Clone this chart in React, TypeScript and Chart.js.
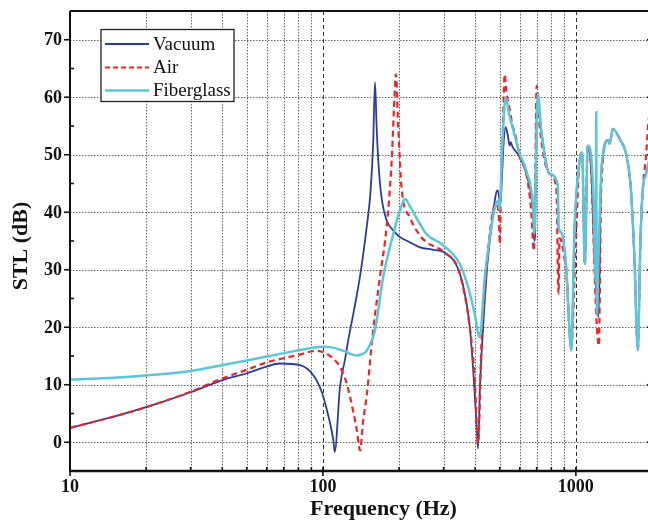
import React, { useEffect, useRef } from "react";
import { Chart, registerables } from "chart.js";
Chart.register(...registerables);

const seriesNames = ["Vacuum", "Air", "Fiberglass"];
const seriesColors = ["#2D3C9A", "#E8262A", "#5CC6D9"];
const yTicks = [0, 10, 20, 30, 40, 50, 60, 70];
const xTickLabels = [10, 100, 1000];
const xTitle = "Frequency (Hz)";
const yTitle = "STL (dB)";

const vacuumFreq = [10, 15, 20, 30, 40, 50, 56.5, 67.8, 81.3, 91.8, 99, 105.3, 110, 111.3, 116.8, 122.4, 126, 133, 140, 150, 154, 158, 160.6, 163, 165.5, 170, 178.5, 190, 201.5, 220, 242, 270, 300, 330, 348, 365, 381, 392, 398, 405, 410.6, 418, 430, 445, 463.5, 480, 488, 494, 500, 503, 510, 518, 528, 540, 547, 553, 560, 600, 637, 676, 686, 690, 695, 701, 708, 730, 787, 849, 854, 875, 916, 959, 988, 1034, 1059, 1085, 1114, 1150, 1185, 1230, 1259, 1338, 1360, 1400, 1500, 1581, 1650, 1704, 1757, 1800, 1838, 1896, 1950, 2000];
const vacuumSTL = [2.5, 4.5, 6.1, 8.7, 10.8, 12.0, 12.8, 13.7, 13.4, 11.6, 8.7, 4.4, 0.3, -1.7, 9.6, 14.5, 17.8, 23.2, 28.7, 38.5, 43.2, 52, 62.6, 55, 49, 43, 38.6, 36.8, 35.7, 34.8, 33.9, 33.5, 33.1, 31.5, 29.3, 25.5, 20, 13, 8.5, 3, -1.1, 10, 20, 30, 37.4, 42.5, 43.8, 43.5, 42, 42, 46, 52, 54.8, 53, 51.6, 52.2, 51.5, 49.6, 46.7, 40.3, 35, 36, 48, 58, 59.5, 54.2, 46.7, 44.6, 37.4, 36.5, 30.5, 16, 37.4, 49, 50.4, 31, 51.6, 47.5, 32, 21.8, 46.7, 52.5, 51.9, 54.5, 52.5, 50.1, 44, 32.2, 16, 35, 43.8, 46.7, 49, 51];

const airFreq = [10, 15, 20, 30, 40, 50, 60, 70, 80, 94.6, 103.4, 110, 116.8, 124.2, 131.4, 136, 140.3, 144, 148.8, 158, 168, 178.5, 187, 190.8, 194.3, 198.5, 204.6, 220.7, 241.6, 256.7, 300, 347.6, 380.6, 398, 410.6, 423.3, 440, 456.5, 481.5, 495, 500.7, 505, 515, 523, 531, 547, 564, 573, 600, 637, 666, 682, 690, 700, 719.5, 787, 837, 854, 862, 875, 916, 959, 1000, 1034, 1059, 1085, 1114, 1150, 1185, 1204, 1233, 1259, 1338, 1360, 1400, 1500, 1581, 1650, 1704, 1757, 1800, 1838, 1896, 1930, 2000];
const airSTL = [2.5, 4.5, 6.1, 8.8, 11.1, 12.6, 13.9, 14.6, 15.2, 15.9, 15.4, 14.5, 13.1, 10.2, 5.6, 2.2, -1.4, 3.5, 7.9, 19.5, 28.7, 37.4, 49, 57.7, 64, 54.8, 44.3, 39.1, 36, 34.8, 33.1, 29.3, 20, 11.3, -0.2, 17.1, 28, 36.2, 41.5, 40, 34.5, 42, 55, 64, 61, 58, 54.8, 54, 49.6, 46.7, 40.3, 33.3, 45, 62, 54.8, 46.7, 44.3, 25.8, 35.5, 35.1, 29.3, 16.6, 35.1, 49, 50.4, 31, 51.6, 47, 30, 22, 16.8, 44, 52.5, 51.9, 54.5, 52.5, 50.1, 44, 32.2, 16, 35, 43.8, 50, 55, 60];

const fiberFreq = [10, 15, 20, 30, 40, 50, 60, 70, 80, 90, 100, 108, 120.4, 128, 136, 142, 148.8, 160.6, 173, 189.7, 201.5, 211, 221, 241.6, 256.7, 300, 347.6, 375, 398, 416.8, 436.5, 470, 492, 500, 510, 528, 545, 564, 600, 637, 676, 686, 695, 708, 730, 787, 849, 852, 875, 916, 959, 988, 1034, 1059, 1085, 1114, 1150, 1175, 1198, 1202, 1204, 1206, 1212, 1225, 1259, 1300, 1338, 1360, 1400, 1500, 1581, 1650, 1704, 1757, 1800, 1838, 1896, 1950, 2000];
const fiberSTL = [10.9, 11.2, 11.6, 12.4, 13.4, 14.2, 14.9, 15.5, 16.0, 16.4, 16.6, 16.5, 15.9, 15.4, 15.1, 15.3, 15.9, 19.5, 28.7, 36.2, 40.3, 42.3, 41, 38, 36.2, 34.2, 31, 27, 22.4, 18.3, 28.7, 39.1, 42, 40.5, 50, 60, 57, 54.5, 50.2, 47.2, 41.5, 36.3, 48, 60.6, 54.2, 46.7, 44.6, 38, 36.5, 30.5, 16, 37.4, 49, 50.4, 31, 51.6, 49.6, 42, 28, 45, 57.4, 40, 22, 30, 46.7, 51.5, 52.5, 51.9, 54.5, 52.5, 50.1, 44, 32.2, 16, 35, 43.8, 46.7, 49, 50];

const FONT = '"Liberation Serif", "Times New Roman", serif';

const framePlugin = {
  id: "frame",
  beforeDatasetsDraw(chart: any) {
    const { ctx, chartArea: a, scales } = chart;
    const x = scales.x, y = scales.y;
    ctx.save();
    ctx.lineWidth = 1;
    ctx.strokeStyle = "#666";
    ctx.setLineDash([1.5, 1.5]);
    for (const v of yTicks) {
      const py = Math.round(y.getPixelForValue(v)) + 0.5;
      ctx.beginPath(); ctx.moveTo(a.left, py); ctx.lineTo(a.right, py); ctx.stroke();
    }
    for (const d of [10, 100, 1000]) {
      for (let m = 2; m <= 9; m++) {
        const f = d * m;
        if (f >= 2000) continue;
        const px = Math.round(x.getPixelForValue(f)) + 0.5;
        ctx.beginPath(); ctx.moveTo(px, a.top); ctx.lineTo(px, a.bottom); ctx.stroke();
      }
    }
    ctx.strokeStyle = "#333";
    ctx.setLineDash([4, 3]);
    for (const f of [100, 1000]) {
      const px = Math.round(x.getPixelForValue(f)) + 0.5;
      ctx.beginPath(); ctx.moveTo(px, a.top); ctx.lineTo(px, a.bottom); ctx.stroke();
    }
    ctx.restore();
  },
  afterDraw(chart: any) {
    const { ctx, chartArea: a, scales } = chart;
    const x = scales.x, y = scales.y;
    ctx.save();
    ctx.setLineDash([]);
    ctx.strokeStyle = "#111";
    ctx.lineWidth = 2;
    ctx.beginPath(); ctx.moveTo(a.left, a.top); ctx.lineTo(a.right, a.top); ctx.stroke();
    ctx.beginPath(); ctx.moveTo(a.left, a.top); ctx.lineTo(a.left, a.bottom); ctx.stroke();
    ctx.beginPath(); ctx.moveTo(a.right, a.top); ctx.lineTo(a.right, a.bottom); ctx.stroke();
    ctx.lineWidth = 2.6;
    ctx.beginPath(); ctx.moveTo(a.left - 1, a.bottom); ctx.lineTo(a.right, a.bottom); ctx.stroke();
    ctx.lineWidth = 1.6;
    for (let v = -5; v <= 75; v += 5) {
      const py = y.getPixelForValue(v);
      if (v % 10 === 0) {
        ctx.beginPath(); ctx.moveTo(a.left - 6, py); ctx.lineTo(a.left, py); ctx.stroke();
        ctx.beginPath(); ctx.moveTo(a.right - 5, py); ctx.lineTo(a.right, py); ctx.stroke();
      } else if (v > -5 && v < 75) {
        ctx.beginPath(); ctx.moveTo(a.left, py); ctx.lineTo(a.left + 4, py); ctx.stroke();
        ctx.beginPath(); ctx.moveTo(a.right - 3, py); ctx.lineTo(a.right, py); ctx.stroke();
      }
    }
    for (const d of [10, 100, 1000]) {
      for (let m = 1; m <= 9; m++) {
        const f = d * m;
        if (f > 2000) continue;
        const px = x.getPixelForValue(f);
        ctx.beginPath();
        if (m === 1) { ctx.moveTo(px, a.bottom - 4); ctx.lineTo(px, a.bottom + 5); }
        else { ctx.moveTo(px, a.bottom - 4); ctx.lineTo(px, a.bottom); }
        ctx.stroke();
      }
    }
    ctx.fillStyle = "#111";
    ctx.font = `bold 18px ${FONT}`;
    ctx.textAlign = "right";
    ctx.textBaseline = "middle";
    for (const v of yTicks) {
      ctx.fillText(String(v), a.left - 8, y.getPixelForValue(v) + 1);
    }
    ctx.textAlign = "center";
    for (const f of xTickLabels) {
      ctx.fillText(String(f), x.getPixelForValue(f), a.bottom + 16);
    }
    ctx.font = `bold 22px ${FONT}`;
    ctx.fillText(xTitle, 383.5, 509);
    ctx.save();
    ctx.translate(21, 246);
    ctx.rotate(-Math.PI / 2);
    ctx.fillText(yTitle, 0, 0);
    ctx.restore();
    const bx = 101, by = 29.5, bw = 133, bh = 72;
    ctx.fillStyle = "#fff";
    ctx.fillRect(bx, by, bw, bh);
    ctx.lineWidth = 1.3;
    ctx.strokeStyle = "#222";
    ctx.strokeRect(bx, by, bw, bh);
    const rows = [44, 67.5, 90.5];
    const widths = [2, 2.2, 2.6];
    const dashes = [[], [5, 3], []];
    ctx.font = `19px ${FONT}`;
    ctx.textAlign = "left";
    for (let i = 0; i < 3; i++) {
      ctx.strokeStyle = seriesColors[i];
      ctx.lineWidth = widths[i];
      ctx.setLineDash(dashes[i]);
      ctx.beginPath(); ctx.moveTo(105, rows[i]); ctx.lineTo(149, rows[i]); ctx.stroke();
      ctx.setLineDash([]);
      ctx.fillStyle = "#111";
      ctx.fillText(seriesNames[i], 153, rows[i] + 1);
    }
    ctx.restore();
  },
};

function toPoints(fx: number[], vy: number[]) {
  return fx.map((f, i) => ({ x: f, y: vy[i] }));
}

export default function App() {
  const ref = useRef<HTMLCanvasElement | null>(null);
  useEffect(() => {
    document.documentElement.style.overflow = "hidden";
    document.body.style.overflow = "hidden";
    if (!ref.current) return;
    const chart = new Chart(ref.current, {
      type: "line",
      data: {
        datasets: [
          { label: seriesNames[0], data: toPoints(vacuumFreq, vacuumSTL), borderColor: seriesColors[0], borderWidth: 1.8, order: 3 },
          { label: seriesNames[1], data: toPoints(airFreq, airSTL), borderColor: seriesColors[1], borderWidth: 2.2, borderDash: [6, 4], order: 2 },
          { label: seriesNames[2], data: toPoints(fiberFreq, fiberSTL), borderColor: seriesColors[2], borderWidth: 2.5, order: 1 },
        ] as any,
      },
      options: {
        animation: false,
        responsive: true,
        maintainAspectRatio: false,
        elements: { point: { radius: 0 }, line: { cubicInterpolationMode: "monotone", fill: false } },
        layout: { padding: { left: 70, right: 8, top: 11, bottom: 49 } },
        plugins: { legend: { display: false }, tooltip: { enabled: false } },
        scales: {
          x: { type: "logarithmic", min: 10, max: 2000, display: false },
          y: { type: "linear", min: -5, max: 75, display: false },
        },
      } as any,
      plugins: [framePlugin],
    });
    return () => chart.destroy();
  }, []);
  return (
    <div style={{ position: "fixed", left: 0, top: 0, width: 660, height: 520, background: "#fff" }}>
      <canvas ref={ref} />
    </div>
  );
}
